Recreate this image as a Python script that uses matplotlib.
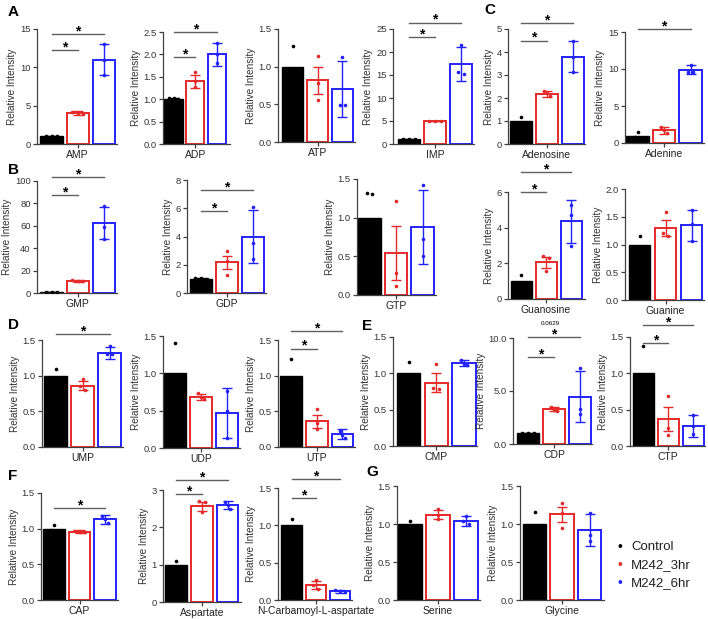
import numpy as np
import matplotlib.pyplot as plt

plt.rcParams['font.family'] = ['Liberation Sans', 'DejaVu Sans']

# groupes
groups = ["Control", "M242_3hr", "M242_6hr"]
colors = ["#000000", "#e52a2a", "#2222ff"]

# donnees : moyenne, barre d'erreur, points, lignes de significativite
amp_mean = [1.0, 4.0, 11.0]
amp_err = [0.03, 0.25, 2.05]
amp_dots = [[1.0, 1.0, 1.0], [4.2, 4.0, 3.9], [13.1, 11.0, 9.0]]
amp_sig = [(0, 1, 12.3), (0, 2, 14.35)]

adp_mean = [1.0, 1.4, 2.0]
adp_err = [0.02, 0.15, 0.25]
adp_dots = [[1.02, 1.02, 1.0], [1.6, 1.4, 1.28], [2.25, 2.0, 1.8]]
adp_sig = [(0, 1, 1.94), (0, 2, 2.5)]

atp_mean = [1.0, 0.82, 0.7]
atp_err = [0, 0.18, 0.37]
atp_dots = [[1.27, 0.88, 0.85], [1.14, 0.78, 0.56], [1.13, 0.49, 0.49]]
atp_sig = []

imp_mean = [1.0, 5.0, 17.3]
imp_err = [0.05, 0.08, 3.7]
imp_dots = [[1.0, 1.0, 1.0], [5.0, 5.0, 5.0], [21.5, 15.6, 15.3]]
imp_sig = [(0, 1, 23.2), (0, 2, 26.4)]

adenosine_mean = [1.0, 2.18, 3.8]
adenosine_err = [0, 0.12, 0.67]
adenosine_dots = [[1.17, 0.92, 0.91], [2.3, 2.2, 2.1], [4.47, 3.8, 3.13]]
adenosine_sig = [(0, 1, 4.5), (0, 2, 5.25)]

adenine_mean = [1.0, 1.7, 9.9]
adenine_err = [0, 0.45, 0.6]
adenine_dots = [[1.5, 0.8, 0.7], [2.1, 1.7, 1.35], [10.6, 9.6, 9.6]]
adenine_sig = [(0, 2, 15.36)]

gmp_mean = [1.0, 11.0, 62.5]
gmp_err = [0.1, 1.0, 14.0]
gmp_dots = [[1.0, 1.0, 1.0], [12.0, 11.0, 10.5], [77.5, 59.0, 48.0]]
gmp_sig = [(0, 1, 87.3), (0, 2, 103.5)]

gdp_mean = [1.0, 2.17, 4.0]
gdp_err = [0.03, 0.45, 1.87]
gdp_dots = [[1.05, 1.05, 1.0], [2.96, 2.27, 1.27], [6.08, 3.56, 2.38]]
gdp_sig = [(0, 1, 5.8), (0, 2, 7.3)]

gtp_mean = [1.0, 0.54, 0.88]
gtp_err = [0, 0.35, 0.48]
gtp_dots = [[1.32, 1.30, 0.38], [1.22, 0.28, 0.12], [1.42, 0.73, 0.5]]
gtp_sig = []

guanosine_mean = [1.0, 2.05, 4.35]
guanosine_err = [0, 0.3, 1.2]
guanosine_dots = [[1.34, 0.85, 0.81], [2.4, 2.3, 1.55], [5.25, 4.7, 3.0]]
guanosine_sig = [(0, 1, 6.0), (0, 2, 7.14)]

guanine_mean = [1.0, 1.3, 1.35]
guanine_err = [0, 0.14, 0.28]
guanine_dots = [[1.16, 0.92, 0.92], [1.58, 1.2, 1.15], [1.62, 1.37, 1.07]]
guanine_sig = []

ump_mean = [1.0, 0.86, 1.32]
ump_err = [0, 0.06, 0.08]
ump_dots = [[1.1, 0.95, 0.95], [0.96, 0.85, 0.80], [1.41, 1.31, 1.31]]
ump_sig = [(0, 2, 1.58)]

udp_mean = [1.0, 0.68, 0.47]
udp_err = [0, 0.04, 0.33]
udp_dots = [[1.4, 0.8, 0.8], [0.73, 0.68, 0.65], [0.77, 0.5, 0.14]]
udp_sig = []

utp_mean = [1.0, 0.36, 0.18]
utp_err = [0, 0.09, 0.07]
utp_dots = [[1.23, 0.9, 0.87], [0.53, 0.34, 0.25], [0.22, 0.17, 0.13]]
utp_sig = [(0, 1, 1.38), (0, 2, 1.63)]

cmp_mean = [1.0, 0.87, 1.14]
cmp_err = [0, 0.13, 0.04]
cmp_dots = [[1.15, 0.93, 0.92], [1.13, 0.8, 0.78], [1.18, 1.13, 1.11]]
cmp_sig = []

cdp_mean = [1.0, 3.3, 4.45]
cdp_err = [0.03, 0.2, 2.4]
cdp_dots = [[1.0, 1.0, 1.0], [3.5, 3.2, 3.1], [7.2, 3.3, 2.8]]
cdp_sig = [(0, 1, 8.18), (0, 2, 10.13)]

ctp_mean = [1.0, 0.37, 0.28]
ctp_err = [0, 0.17, 0.15]
ctp_dots = [[1.37, 0.82, 0.81], [0.69, 0.25, 0.15], [0.43, 0.27, 0.17]]
ctp_sig = [(0, 1, 1.42), (0, 2, 1.66)]

cap_mean = [1.0, 0.96, 1.13]
cap_err = [0, 0.02, 0.06]
cap_dots = [[1.05, 0.98, 0.97], [0.97, 0.96, 0.95], [1.18, 1.13, 1.08]]
cap_sig = [(0, 2, 1.29)]

asp_mean = [1.0, 2.57, 2.6]
asp_err = [0, 0.12, 0.1]
asp_dots = [[1.1, 0.95, 0.95], [2.7, 2.68, 2.4], [2.68, 2.6, 2.5]]
asp_sig = [(0, 1, 2.89), (0, 2, 3.27)]

nca_mean = [1.0, 0.2, 0.12]
nca_err = [0, 0.05, 0.02]
nca_dots = [[1.08, 0.96, 0.96], [0.27, 0.2, 0.15], [0.14, 0.12, 0.11]]
nca_sig = [(0, 1, 1.37), (0, 2, 1.62)]

ser_mean = [1.0, 1.12, 1.04]
ser_err = [0, 0.06, 0.07]
ser_dots = [[1.04, 0.98, 0.98], [1.2, 1.12, 1.06], [1.1, 1.04, 1.0]]
ser_sig = []

gly_mean = [1.0, 1.13, 0.92]
gly_err = [0, 0.1, 0.21]
gly_dots = [[1.16, 0.92, 0.92], [1.27, 1.15, 0.95], [1.15, 0.85, 0.77]]
gly_sig = []

# mise en page en pixels : x spine, centre 1ere barre, pas, x droite, y haut, y bas
W, H = 708, 619
panels = [
    ("AMP", amp_mean, amp_err, amp_dots, amp_sig, 15, [0, 5, 10, 15], "{:.0f}", (37, 51.5, 26.2, 117, 29, 144)),
    ("ADP", adp_mean, adp_err, adp_dots, adp_sig, 2.5, [0, 0.5, 1, 1.5, 2, 2.5], "{:.1f}", (163, 173.5, 21.8, 230, 32, 144)),
    ("ATP", atp_mean, atp_err, atp_dots, atp_sig, 1.5, [0, 0.5, 1, 1.5], "{:.1f}", (278, 292.5, 25, 355, 29, 142)),
    ("IMP", imp_mean, imp_err, imp_dots, imp_sig, 25, [0, 5, 10, 15, 20, 25], "{:.0f}", (393, 409, 26, 474, 29, 144)),
    ("Adenosine", adenosine_mean, adenosine_err, adenosine_dots, adenosine_sig, 5, [0, 1, 2, 3, 4, 5], "{:.0f}", (508, 521, 26, 585, 29, 144)),
    ("Adenine", adenine_mean, adenine_err, adenine_dots, adenine_sig, 15, [0, 5, 10, 15], "{:.0f}", (625, 637.5, 26.5, 704, 32, 143)),
    ("GMP", gmp_mean, gmp_err, gmp_dots, gmp_sig, 100, [0, 20, 40, 60, 80, 100], "{:.0f}", (37, 51.5, 26.2, 117, 181, 293)),
    ("GDP", gdp_mean, gdp_err, gdp_dots, gdp_sig, 8, [0, 2, 4, 6, 8], "{:.0f}", (187, 201, 26, 266, 180, 293)),
    ("GTP", gtp_mean, gtp_err, gtp_dots, gtp_sig, 1.5, [0, 0.5, 1, 1.5], "{:.1f}", (357, 369.5, 26.5, 436, 179, 295)),
    ("Guanosine", guanosine_mean, guanosine_err, guanosine_dots, guanosine_sig, 6, [0, 2, 4, 6], "{:.0f}", (508, 521, 25, 585, 192, 299)),
    ("Guanine", guanine_mean, guanine_err, guanine_dots, guanine_sig, 2.0, [0, 0.5, 1, 1.5, 2], "{:.1f}", (625, 639.5, 26, 704, 189, 300)),
    ("UMP", ump_mean, ump_err, ump_dots, ump_sig, 1.5, [0, 0.5, 1, 1.5], "{:.1f}", (42, 55.5, 27, 123, 340, 447)),
    ("UDP", udp_mean, udp_err, udp_dots, udp_sig, 1.5, [0, 0.5, 1, 1.5], "{:.1f}", (163, 175, 26, 240, 336, 448)),
    ("UTP", utp_mean, utp_err, utp_dots, utp_sig, 1.5, [0, 0.5, 1, 1.5], "{:.1f}", (278, 291, 25.75, 355, 340, 447)),
    ("CMP", cmp_mean, cmp_err, cmp_dots, cmp_sig, 1.5, [0, 0.5, 1, 1.5], "{:.1f}", (393, 408.5, 27.7, 477, 337, 446)),
    ("CDP", cdp_mean, cdp_err, cdp_dots, cdp_sig, 10, [0, 5, 10], "{:.1f}", (513, 528, 26, 592, 338, 444)),
    ("CTP", ctp_mean, ctp_err, ctp_dots, ctp_sig, 1.5, [0, 0.5, 1, 1.5], "{:.1f}", (630, 643, 25, 705, 337, 446)),
    ("CAP", cap_mean, cap_err, cap_dots, cap_sig, 1.5, [0, 0.5, 1, 1.5], "{:.1f}", (41, 54, 25.5, 118, 493, 600)),
    ("Aspartate", asp_mean, asp_err, asp_dots, asp_sig, 3, [0, 1, 2, 3], "{:.0f}", (163, 176, 25.75, 241, 490, 602)),
    ("N-Carbamoyl-L-aspartate", nca_mean, nca_err, nca_dots, nca_sig, 1.5, [0, 0.5, 1, 1.5], "{:.1f}", (278, 291.5, 24.3, 352, 488, 600)),
    ("Serine", ser_mean, ser_err, ser_dots, ser_sig, 1.5, [0, 0.5, 1, 1.5], "{:.1f}", (397, 410, 28, 480, 486, 600)),
    ("Glycine", gly_mean, gly_err, gly_dots, gly_sig, 1.5, [0, 0.5, 1, 1.5], "{:.1f}", (520, 534.5, 27.5, 604, 486, 600)),
]

letters = [("A", 8, 12), ("C", 484, 10), ("B", 8, 170), ("D", 8, 325),
           ("E", 362, 326), ("F", 8, 476), ("G", 366, 472)]


def spread(vals, tol):
    # ecarte horizontalement les points trop proches
    offs = []
    for k, v in enumerate(vals):
        near = [j for j in range(len(vals)) if abs(vals[j] - v) < tol]
        idx = near.index(k)
        offs.append((idx - (len(near) - 1) / 2) * 0.22)
    return offs


fig = plt.figure(figsize=(W / 100, H / 100), dpi=100)
spine_col = "#404040"

for name, mean, err, dots, sig, ymax, ticks, fmt, (x0, c0, sp, x1, ytop, ybot) in panels:
    ax = fig.add_axes([x0 / W, 1 - ybot / H, (x1 - x0) / W, (ybot - ytop) / H])
    for i in range(3):
        if i == 0:
            ax.bar(i, mean[i], width=0.84, color="black", edgecolor="black", lw=1.0, zorder=2)
        else:
            ax.bar(i, mean[i], width=0.84, color="white", edgecolor=colors[i], lw=1.4, zorder=2)
        if err[i] > 0:
            ax.errorbar(i, mean[i], yerr=err[i], color=colors[i], capsize=3.5, lw=1.0,
                        capthick=1.0, zorder=3)
        offs = spread(dots[i], 0.035 * ymax)
        ax.plot(np.array(offs) + i, dots[i], "o", ms=2.6, color=colors[i], mec="none", zorder=4)

    for a, b, y in sig:
        ax.plot([a, b], [y, y], color="#606060", lw=1.0, clip_on=False, zorder=5)
        ax.annotate("*", ((a + b) / 2, y), xytext=(0, -1.0), textcoords="offset points",
                    ha="center", va="baseline", fontsize=10, fontweight="bold",
                    annotation_clip=False)

    ax.set_xlim((x0 - c0) / sp, (x1 - c0) / sp)
    ax.set_ylim(0, ymax)
    ax.set_yticks(ticks)
    ax.set_yticklabels([fmt.format(t) for t in ticks])
    ax.set_xticks([1])
    ax.set_xticklabels([name])
    ax.tick_params(axis="y", labelsize=6.8, length=3, width=0.9, color=spine_col,
                   labelcolor="#333333", pad=1.5)
    ax.tick_params(axis="x", labelsize=7.5, length=3, width=0.9, color=spine_col,
                   labelcolor="#222222", pad=1.5)
    ax.set_ylabel("Relative Intensity", fontsize=7.2, color="#333333", labelpad=2)
    for s in ["top", "right"]:
        ax.spines[s].set_visible(False)
    for s in ["left", "bottom"]:
        ax.spines[s].set_color(spine_col)
        ax.spines[s].set_linewidth(0.9)

    if name == "CDP":
        ax.text(0.85, 11.4, "0.0629", fontsize=4.5, ha="center", va="center", clip_on=False)

for lab, x, y in letters:
    fig.text(x / W, 1 - y / H, lab, fontsize=11, fontweight="bold", ha="left", va="center")

# legende
for k, g in enumerate(groups):
    yy = 1 - (547 + k * 18) / H
    fig.text(620 / W, yy, "\u2022", color=colors[k], fontsize=10, ha="center", va="center")
    fig.text(631 / W, yy, g, color="#222222", fontsize=9.5, ha="left", va="center")

fig.savefig("out.png", dpi=100)
